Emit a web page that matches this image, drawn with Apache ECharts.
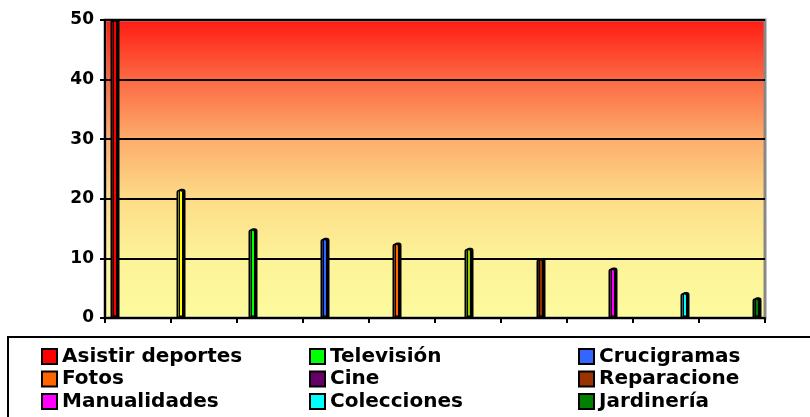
<!DOCTYPE html>
<html><head><meta charset="utf-8">
<script src="https://cdn.jsdelivr.net/npm/echarts@6/dist/echarts.min.js"></script>
<style>html,body{margin:0;padding:0;background:#fff}#c{width:810px;height:417px}</style>
</head><body><div id="c"></div>
<script>
var categories = ['1','2','3','4','5','6','7','8','9','10'];
var seriesNames = ['Asistir deportes','Televisión','Crucigramas','Fotos','Cine','Reparacione','Manualidades','Colecciones','Jardinería'];
var seriesColors = ['#ff0000','#00ff00','#3366ff','#ff6600','#660066','#993300','#ff00ff','#00ffff','#008000'];
// value of each category's bar, the series it belongs to, and its drawn colour
var barValues = [50, 21.5, 14.9, 13.3, 12.5, 11.6, 9.9, 8.3, 4.2, 3.3];
var barSeries = [0, 0, 1, 2, 3, 4, 5, 6, 7, 8];
var barColors = ['#ff0000','#ffff00','#00ff00','#3366ff','#ff6600','#99cc00','#993300','#ff00ff','#00ffff','#008000'];
var yTicks = [0, 10, 20, 30, 40, 50];
var legendCols = [
  ['Asistir deportes','Fotos','Manualidades'],
  ['Televisión','Cine','Colecciones'],
  ['Crucigramas','Reparacione','Jardinería']
];

var FONT = '"DejaVu Sans", sans-serif';
var series = seriesNames.map(function(n, s){
  var d = categories.map(function(c, j){
    if (barSeries[j] !== s) return null;
    return { value: barValues[j], itemStyle: { color: barColors[j] } };
  });
  return {
    name: n, type: 'bar', data: d, barWidth: 7, barGap: '-14.3%', color: seriesColors[s],
    itemStyle: { color: seriesColors[s], borderColor: '#000', borderWidth: 1.5, borderRadius: [2, 2, 0, 0],
      shadowColor: '#000', shadowBlur: 0, shadowOffsetX: 2, shadowOffsetY: -1 }
  };
});

var legendLeft = [41, 309, 578];
var legends = legendCols.map(function(col, k){
  return {
    orient: 'vertical', left: legendLeft[k], top: 346, padding: 0,
    itemWidth: 15, itemHeight: 15, itemGap: 1.5, icon: 'rect',
    selectedMode: false,
    itemStyle: { borderColor: '#000', borderWidth: 2, borderRadius: 0, shadowBlur: 0, shadowOffsetX: 0, shadowOffsetY: 0 },
    textStyle: { fontFamily: FONT, fontWeight: 'bold', fontSize: 20, color: '#000', lineHeight: 21 },
    data: col
  };
});

var chart = echarts.init(document.getElementById('c'));
chart.setOption({
  animation: false,
  backgroundColor: '#fff',
  grid: {
    left: 105, right: 45, top: 20, bottom: 99, show: true,
    borderColor: '#888', borderWidth: 3,
    backgroundColor: { type: 'linear', x: 0, y: 0, x2: 0, y2: 1, colorStops: [
      {offset: 0, color: '#ff1a12'}, {offset: 0.2, color: '#fc6842'},
      {offset: 0.4, color: '#fdad6c'}, {offset: 0.6, color: '#fddc88'},
      {offset: 0.8, color: '#fdf398'}, {offset: 1, color: '#fdfa9e'}] }
  },
  legend: legends,
  xAxis: {
    type: 'category', data: categories,
    axisLine: { lineStyle: { color: '#000', width: 2 } },
    axisTick: { show: true, length: 5, lineStyle: { color: '#000', width: 2 } },
    axisLabel: { show: false }
  },
  yAxis: {
    type: 'value', min: yTicks[0], max: yTicks[yTicks.length-1], interval: 10,
    axisLine: { show: true, lineStyle: { color: '#000', width: 2 } },
    axisTick: { show: true, length: 5, lineStyle: { color: '#000', width: 2 } },
    axisLabel: { fontFamily: FONT, fontWeight: 'bold', fontSize: 17, color: '#000', margin: 11 },
    splitLine: { lineStyle: { color: '#000', width: 2 } }
  },
  graphic: [{
    type: 'rect', shape: { x: 8, y: 337, width: 830, height: 120 },
    style: { fill: null, stroke: '#000', lineWidth: 2 }, z: 10
  }],
  series: series
});
</script></body></html>
